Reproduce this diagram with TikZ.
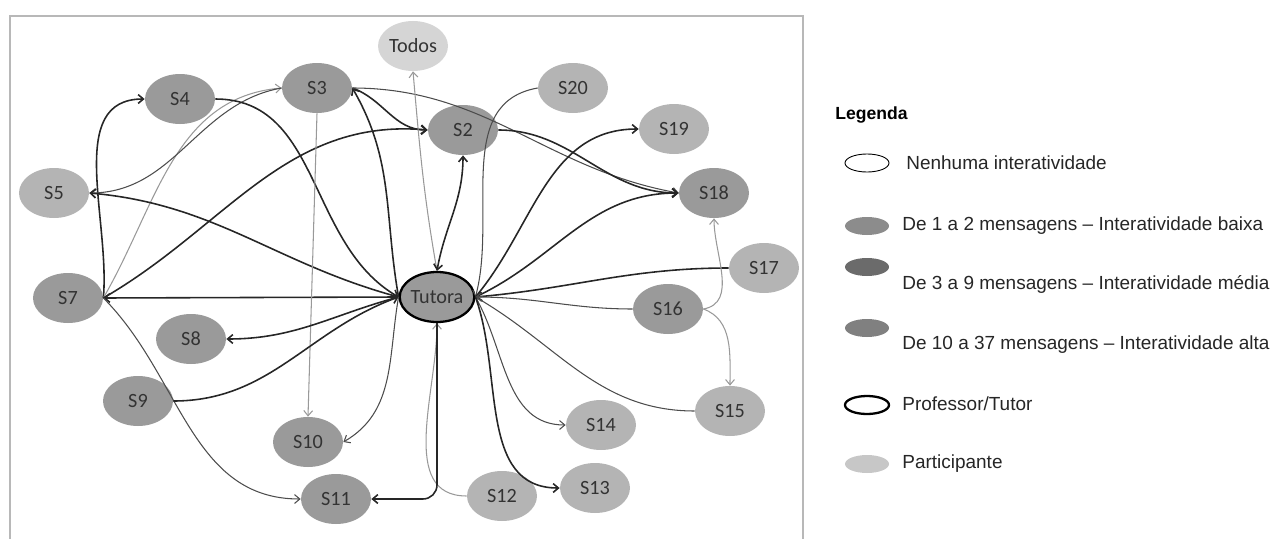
\documentclass[tikz,border=0pt]{standalone}
\usepackage{fontspec}
\setmainfont{Carlito}
\newfontfamily\legfont{Liberation Sans}
\usetikzlibrary{arrows.meta,shapes.geometric}
\definecolor{NodeDark}{HTML}{9A9A9A}
\definecolor{NodeLight}{HTML}{B4B4B4}
\definecolor{NodeAll}{HTML}{D5D5D5}
\definecolor{FrameGray}{HTML}{B8B8B8}
\tikzset{>={Straight Barb[length=3pt,width=5pt]},every node/.style={font=\fontsize{11.5}{13}\selectfont,text=black!80},
 stu/.style={ellipse,fill=NodeDark,minimum width=14mm,minimum height=10mm,inner sep=0pt},
 stl/.style={stu,fill=NodeLight},
 thk/.style={draw=black!85,line width=.9pt,->},
 mid/.style={draw=black!70,line width=.6pt,->},
 lgt/.style={draw=black!40,line width=.6pt,->}}
\begin{document}
\begin{tikzpicture}[x=0.2mm,y=-0.2mm,
 leg/.style={ellipse,minimum width=8.8mm,minimum height=3.6mm,inner sep=0pt},
 legtxt/.style={anchor=west,inner sep=0pt,text=black!85,font=\legfont\fontsize{10.8}{12}\selectfont}]
\useasboundingbox (0,0) rectangle (1280,539);
\draw[FrameGray,line width=1pt] (10,539) |- (803,16) -- (803,539);
\node[stu,draw=black,line width=1.3pt] (tut) at (437,297) {Tutora};
\node[stu,fill=NodeAll] (tod) at (413,46) {Todos};
\node[stu] (s2) at (463,130) {S2};
\node[stu] (s3) at (317,88) {S3};
\node[stu] (s4) at (180,99) {S4};
\node[stl] (s5) at (54,193) {S5};
\node[stu] (s7) at (68,298) {S7};
\node[stu] (s8) at (191,339) {S8};
\node[stu] (s9) at (138,401) {S9};
\node[stu] (s10) at (308,442) {S10};
\node[stu] (s11) at (336,499) {S11};
\node[stl] (s12) at (502,496) {S12};
\node[stl] (s13) at (595,488) {S13};
\node[stl] (s14) at (601,425) {S14};
\node[stl] (s15) at (730,411) {S15};
\node[stu] (s16) at (668,309) {S16};
\node[stl] (s17) at (764,268) {S17};
\node[stu] (s18) at (714,193) {S18};
\node[stl] (s19) at (674,129) {S19};
\node[stl] (s20) at (573,88) {S20};
\draw[thk] (tut.west) -- (s7.east);
\draw[thk] (s7.east) to[out=85,in=180] (s4.west);
\draw[lgt] (s7.east) to[out=60,in=185] (s3.west);
\draw[mid] (s3.west) to[out=190,in=0] (s5.east);
\draw[thk] (tut.west) to[out=165,in=-5] (s5.east);
\draw[thk] (s4.east) to[out=0,in=150] (tut.west);
\draw[thk] (tut.west) to[out=100,in=-60] (s3.east);
\draw[thk] (s3.east) to[out=-20,in=180] (s2.west);
\draw[mid] (s3.east) to[out=0,in=170] (s18.west);
\draw[thk] (s7.east) to[out=30,in=175] (s2.west);
\draw[lgt] (s3.south) -- (s10.north);
\draw[lgt] (tut.north) to[out=100,in=-85] (tod.south);
\draw[thk,<->] (tut.north) to[out=80,in=-90] (s2.south);
\draw[mid] (s20.west) to[out=190,in=75] (tut.east);
\draw[thk] (tut.east) to[out=50,in=180] (s19.west);
\draw[thk] (tut.east) to[out=25,in=180] (s18.west);
\draw[thk] (s2.east) to[out=0,in=180] (s18.west);
\draw[thk] (s17.west) to[out=180,in=5] (tut.east);
\draw[mid] (s16.west) to[out=180,in=0] (tut.east);
\draw[lgt] (s16.east) to[out=10,in=-90] (s18.south);
\draw[lgt] (s16.east) to[out=-20,in=90] (s15.north);
\draw[mid] (s15.west) to[out=180,in=-30] (tut.east);
\draw[mid] (tut.east) to[out=-60,in=180] (s14.west);
\draw[thk] (tut.east) to[out=-70,in=180] (s13.west);
\draw[lgt] (s12.west) to[out=180,in=-90] (tut.south);
\draw[thk,rounded corners=8pt] (tut.south) |- (s11.east);
\draw[mid] (s7.east) to[out=-45,in=180] (s11.west);
\draw[thk] (tut.west) to[out=195,in=0] (s8.east);
\draw[thk] (s9.east) to[out=0,in=200] (tut.west);
\draw[mid] (tut.west) to[out=-100,in=30] (s10.east);
\node[anchor=west,inner sep=0pt,text=black,font=\legfont\bfseries\fontsize{10}{12}\selectfont] (lt) at (835,115) {Legenda};
\node[leg,draw=black,line width=.5pt] (l0) at (867,163) {};
\node[legtxt] (t0) at (906,163) {Nenhuma interatividade};
\node[leg,fill=black!45] (l1) at (867,226) {};
\node[legtxt] (t1) at (902,226) {De 1 a 2 mensagens – Interatividade baixa};
\node[leg,fill=black!58] (l2) at (867,267) {};
\node[legtxt] (t2) at (902,284) {De 3 a 9 mensagens – Interatividade média};
\node[leg,fill=black!50] (l3) at (867,328) {};
\node[legtxt] (t3) at (902,345) {De 10 a 37 mensagens – Interatividade alta};
\node[leg,draw=black,line width=1.3pt] (l4) at (867,405) {};
\node[legtxt] (t4) at (902,404) {Professor/Tutor};
\node[leg,fill=black!22] (l5) at (867,464) {};
\node[legtxt] (t5) at (902,464) {Participante};
\end{tikzpicture}
\end{document}
